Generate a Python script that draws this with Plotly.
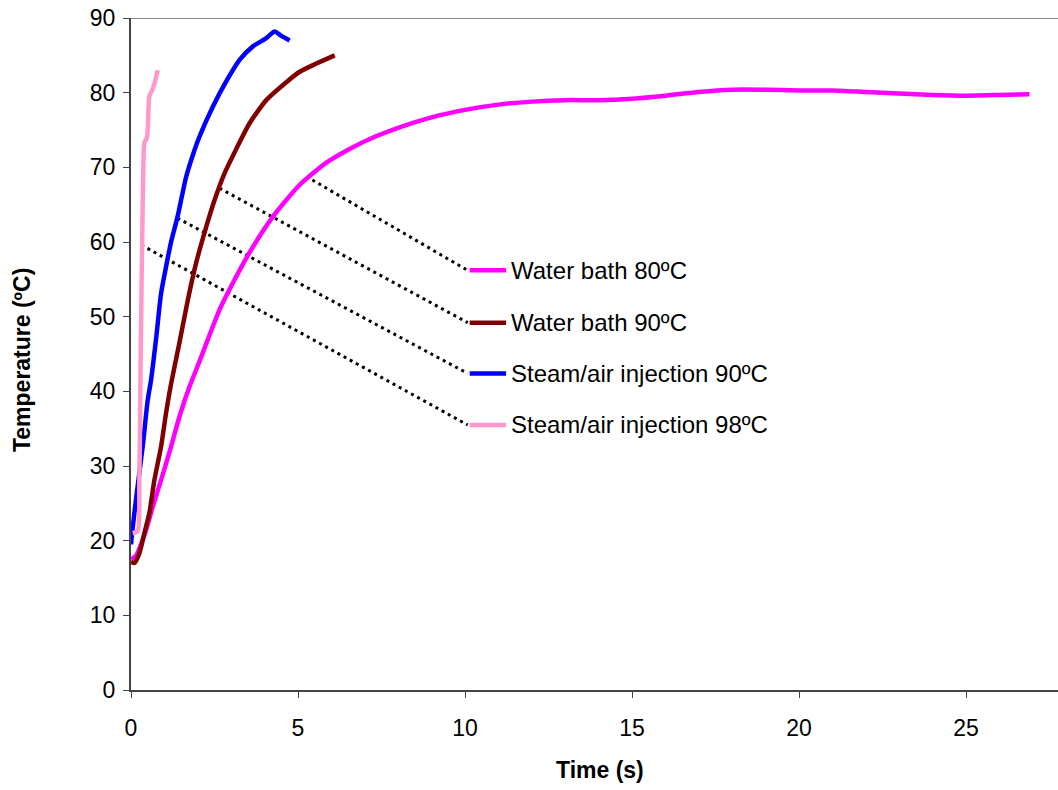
import plotly.graph_objects as go

# Water bath 80ºC
wb80_t = [0.0, 0.15, 0.3, 0.45, 0.65, 0.9, 1.2, 1.45, 1.75, 2.05, 2.65, 3.05, 3.55, 4.25, 5.04, 5.84, 6.6, 7.3, 8.0, 9.0, 10.0, 11.0,
          12.0, 13.0, 14.0, 15.0, 16.0, 17.0, 18.0, 19.0, 20.0, 21.0, 22.0, 23.0, 24.0, 25.0, 26.0, 26.9]
wb80_T = [17.5, 18.0, 19.5, 21.4, 24.5, 28.1, 32.6, 36.6, 40.6, 44.0, 50.9, 54.5, 58.6, 63.4, 67.6, 70.6, 72.6, 74.1, 75.3, 76.7, 77.7, 78.4,
          78.8, 79.0, 79.0, 79.2, 79.6, 80.1, 80.4, 80.4, 80.3, 80.3, 80.1, 79.9, 79.7, 79.6, 79.7, 79.8]

# Water bath 90ºC
wb90_t = [0.0, 0.1, 0.25, 0.4, 0.55, 0.7, 0.9, 1.05, 1.2, 1.45, 1.7, 1.95, 2.25, 2.5, 2.8, 3.1, 3.55, 4.05, 4.65, 5.05, 5.55, 6.1]
wb90_T = [17.2, 17.0, 18.3, 21.0, 23.7, 28.1, 32.6, 37.1, 41.0, 46.5, 52.2, 57.2, 62.0, 65.6, 69.2, 72.0, 75.9, 79.0, 81.4, 82.8, 83.9, 85.0]

# Steam/air injection 90ºC
si90_t = [0.0, 0.02, 0.16, 0.35, 0.5, 0.6, 0.75, 0.9, 1.05, 1.2, 1.4, 1.65, 1.9, 2.05, 2.45, 2.85, 3.25, 3.65, 4.05, 4.3, 4.5, 4.75]
si90_T = [19.5, 20.5, 25.9, 32.6, 38.8, 41.5, 47.0, 53.1, 56.7, 60.0, 63.5, 68.7, 72.3, 74.1, 78.1, 81.5, 84.4, 86.2, 87.3, 88.2, 87.6, 87.0]

# Steam/air injection 98ºC
si98_t = [0.05, 0.2, 0.25, 0.28, 0.31, 0.34, 0.37, 0.4, 0.48, 0.55, 0.65, 0.72, 0.8]
si98_T = [21.0, 21.3, 28.0, 40.0, 52.0, 62.0, 70.0, 73.3, 74.0, 79.5, 80.5, 81.5, 83.0]

series_names = ["Water bath 80ºC", "Water bath 90ºC", "Steam/air injection 90ºC", "Steam/air injection 98ºC"]
series_colors = ["#FF00FF", "#800000", "#0000FF", "#FF99CC"]

# Leader line anchor points on curves (time, temperature) and legend positions
leader_start_t = [5.43, 2.65, 1.39, 0.31]
leader_start_T = [68.3, 67.2, 63.2, 59.6]
legend_t = [10.08, 10.08, 10.08, 10.08]
legend_T = [56.2, 49.2, 42.4, 35.5]

x_ticks = [0, 5, 10, 15, 20, 25]
y_ticks = [0, 10, 20, 30, 40, 50, 60, 70, 80, 90]

FONT = "Liberation Sans, Arial"

fig = go.Figure()

# leader lines
for i in range(4):
    fig.add_trace(go.Scatter(
        x=[leader_start_t[i], legend_t[i]], y=[leader_start_T[i], legend_T[i]],
        mode="lines", line=dict(color="black", width=3, dash="3px,4px"),
        showlegend=False, hoverinfo="skip"))

data = [(wb80_t, wb80_T), (wb90_t, wb90_T), (si90_t, si90_T), (si98_t, si98_T)]
for i in range(4):
    t, T = data[i]
    fig.add_trace(go.Scatter(x=t, y=T, mode="lines", name=series_names[i],
                             line=dict(color=series_colors[i], width=4.5, shape="spline", smoothing=0.6),
                             showlegend=False))

# custom legend samples + text
for i in range(4):
    fig.add_trace(go.Scatter(
        x=[legend_t[i] + 0.06, legend_t[i] + 1.15], y=[legend_T[i], legend_T[i]],
        mode="lines", line=dict(color=series_colors[i], width=4.5),
        showlegend=False, hoverinfo="skip"))
    fig.add_annotation(x=legend_t[i] + 1.25, y=legend_T[i], xref="x", yref="y",
                       text=series_names[i], showarrow=False, xanchor="left", yanchor="middle",
                       font=dict(family=FONT, size=24, color="black"))

# top border line
fig.add_shape(type="line", xref="paper", yref="y", x0=0, x1=1, y0=90, y1=90,
              line=dict(color="#888888", width=2))

fig.add_annotation(text="<b>Time (s)</b>", xref="paper", yref="paper", x=(600 - 131) / (1058 - 131), y=-0.119,
                   xanchor="center", yanchor="middle", showarrow=False,
                   font=dict(family=FONT, size=23, color="black"))
fig.add_annotation(text="<b>Temperature (ºC)</b>", xref="paper", yref="paper", x=(22 - 131) / (1058 - 131), y=0.491,
                   xanchor="center", yanchor="middle", showarrow=False, textangle=-90,
                   font=dict(family=FONT, size=23, color="black"))

fig.update_layout(
    width=1058, height=790,
    margin=dict(l=131, r=0, t=18, b=100),
    plot_bgcolor="white", paper_bgcolor="white",
    font=dict(family=FONT, size=23, color="black"),
    xaxis=dict(range=[0, (1058 - 131) / 33.4], tickvals=x_ticks, ticks="outside", ticklen=6, tickcolor="#444",
               showline=True, linecolor="#444", linewidth=2, showgrid=False, zeroline=False,
               ticklabelstandoff=10),
    yaxis=dict(range=[0, 90], tickvals=y_ticks, ticks="outside", ticklen=6, tickcolor="#444",
               showline=True, linecolor="#444", linewidth=2, showgrid=False, zeroline=False,
               ticklabelstandoff=3),
)

fig.write_html("out.html")
